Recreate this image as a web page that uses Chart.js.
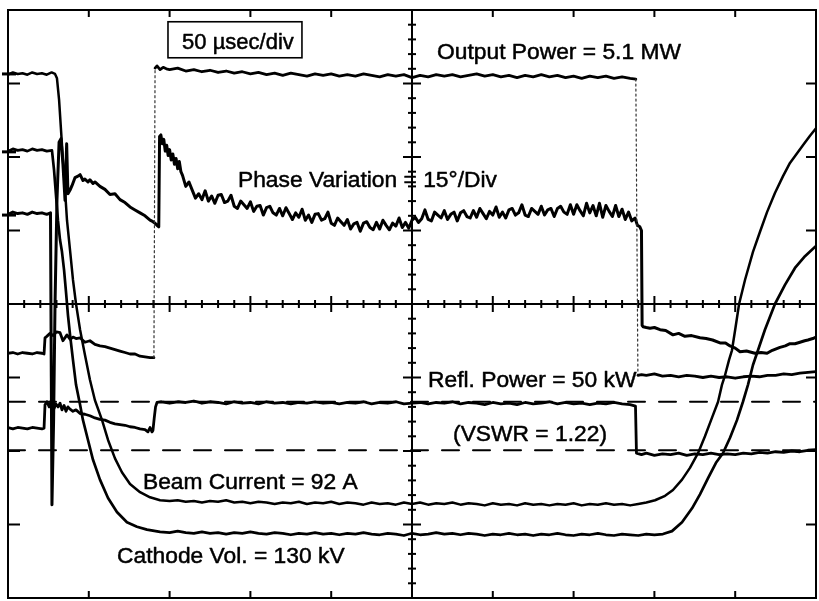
<!DOCTYPE html>
<html><head><meta charset="utf-8">
<script src="https://cdn.jsdelivr.net/npm/chart.js@4.4.0/dist/chart.umd.min.js"></script>
<style>html,body{margin:0;padding:0;background:#fff}canvas{display:block}</style>
</head><body>
<canvas id="c" width="819" height="601"></canvas>
<script>
// x: time in µs (50 µs/div, 10 div); y: screen divisions (8 div, centre = 0)
const timeRange = [0, 500];
const divRange = [-4, 4];
const majorTimeTicks = [50,100,150,200,250,300,350,400,450];
const majorDivTicks = [-3,-2,-1,1,2,3];

const outputPower = [[0,-0.67],[3,-0.66],[6,-0.68],[9,-0.66],[12,-0.67],[15,-0.68],[18,-0.66],[21,-0.67],[22.3,-0.68],[22.9,-0.46],[24,-0.44],[26,-0.40],[28,-0.43],[30,-0.38],[32.2,-0.39],[34,-0.50],[36.5,-0.42],[38.4,-0.48],[40.2,-0.45],[42.1,-0.47],[44.6,-0.46],[47.6,-0.52],[50.7,-0.50],[53.8,-0.55],[56.9,-0.57],[60,-0.58],[63.1,-0.60],[66.2,-0.62],[69.3,-0.64],[72.4,-0.66],[75.5,-0.68],[78.6,-0.68],[81.7,-0.71],[84.8,-0.72],[87.9,-0.73],[90.3,-0.73],[91.0,3.21],[92.2,3.24],[94.1,3.19],[96,3.22],[98,3.20],[100,3.19],[105,3.21],[110,3.17],[115,3.19],[120,3.16],[125,3.18],[130,3.15],[135,3.17],[140,3.14],[145,3.16],[150,3.13],[155,3.15],[160,3.12],[165,3.14],[170,3.11],[175,3.14],[180,3.12],[185,3.10],[190,3.13],[195,3.11],[200,3.13],[205,3.10],[210,3.12],[215,3.10],[220,3.13],[225,3.11],[230,3.09],[235,3.12],[240,3.10],[245,3.12],[250,3.08],[255,3.11],[260,3.09],[265,3.12],[270,3.10],[275,3.12],[280,3.09],[285,3.11],[290,3.13],[295,3.10],[300,3.12],[305,3.09],[310,3.11],[315,3.08],[320,3.11],[325,3.09],[330,3.12],[335,3.09],[340,3.11],[345,3.08],[350,3.10],[355,3.07],[360,3.10],[365,3.08],[370,3.10],[375,3.07],[380,3.09],[385,3.07],[388.5,3.06],[389.8,-0.97],[392,-0.96],[395,-0.97],[400,-0.95],[405,-0.98],[410,-0.97],[415,-0.99],[420,-0.97],[425,-0.98],[430,-1.00],[435,-0.98],[440,-1.00],[445,-0.99],[450,-1.01],[455,-0.99],[460,-0.98],[465,-0.99],[470,-0.97],[475,-0.97],[480,-0.95],[485,-0.96],[490,-0.94],[495,-0.93],[500,-0.92]];

const phaseVariation = [[0,1.22],[3,1.25],[6,1.23],[9,1.24],[12,1.22],[15,1.25],[18,1.23],[21,1.24],[24,1.22],[26.3,1.24],[26.8,-1.0],[27.2,-2.73],[28.2,-1.6],[29.1,0.0],[30.3,1.41],[31.6,2.2],[32.8,2.25],[34.0,1.9],[35.3,1.41],[36.3,2.18],[37.1,1.50],[38.4,1.55],[39.6,1.61],[41.5,1.72],[43.3,1.74],[44.6,1.76],[46.4,1.68],[47.6,1.70],[49.5,1.66],[50.7,1.69],[52.6,1.64],[53.8,1.66],[56.9,1.60],[60.0,1.56],[63.1,1.49],[66.2,1.50],[69.3,1.42],[72.4,1.38],[75.5,1.32],[78.6,1.28],[81.7,1.24],[84.8,1.20],[87.9,1.14],[89.7,1.12],[91.0,1.10],[92.2,1.07],[93.3,1.05],[93.8,2.28],[94.6,2.30],[95.5,2.18],[96.4,2.24],[97.3,2.08],[98.2,2.16],[99.1,2.02],[100.0,2.10],[101.0,1.96],[102.0,2.04],[103.0,1.90],[104.0,1.98],[105.0,1.84],[106.0,1.94],[107.0,1.80],
[108,1.75],[110,1.60],[112,1.66],[114,1.55],[116,1.44],[118,1.50],[120,1.42],[122,1.54],[124,1.40],[126,1.47],[128,1.37],[130,1.48],[132,1.49],[134,1.38],[136,1.40],[138,1.48],[140,1.33],[142,1.30],[144,1.40],[146,1.35],[148,1.30],[150,1.39],[152,1.26],[154,1.33],[156,1.34],[158,1.21],[160,1.31],[162,1.33],[164,1.24],[166,1.21],[168,1.30],[170,1.20],[172,1.31],[174,1.23],[176,1.15],[178,1.24],[180,1.18],[182,1.29],[184,1.14],[186,1.21],[188,1.11],[190,1.22],[192,1.23],[194,1.14],[196,1.16],[198,1.25],[200,1.10],[202,1.07],[204,1.17],[206,1.12],[208,1.07],[210,1.15],[212,1.02],[214,1.09],[216,1.11],[218,0.99],[220,1.10],[222,1.12],[224,1.04],[226,1.01],[228,1.11],[230,1.02],[232,1.14],[234,1.07],[236,1.01],[238,1.10],[240,1.06],[242,1.17],[244,1.04],[246,1.11],[248,1.03],[250,1.14],[252,1.18],[254,1.11],[256,1.16],[258,1.28],[260,1.15],[262,1.13],[264,1.25],[266,1.21],[268,1.17],[270,1.27],[272,1.15],[274,1.22],[276,1.25],[278,1.13],[280,1.24],[282,1.27],[284,1.19],[286,1.17],[288,1.27],[290,1.18],[292,1.30],[294,1.23],[296,1.16],[298,1.26],[300,1.21],[302,1.32],[304,1.18],[306,1.25],[308,1.17],[310,1.28],[312,1.30],[314,1.21],[316,1.24],[318,1.35],[320,1.21],[322,1.19],[324,1.30],[326,1.26],[328,1.22],[330,1.33],[332,1.21],[334,1.28],[336,1.30],[338,1.19],[340,1.30],[342,1.33],[344,1.25],[346,1.22],[348,1.35],[350,1.22],[352,1.35],[354,1.27],[356,1.20],[358,1.37],[360,1.24],[362,1.34],[364,1.20],[366,1.37],[368,1.18],[370,1.34],[372,1.26],[374,1.19],[376,1.34],[378,1.19],[380,1.29],[382,1.15],[384,1.25],[386,1.13],[388,1.17],[389.5,1.07],[391,1.05],[392.0,1.00],
[392.4,-0.29],[393,-0.31],[395,-0.32],[397.3,-0.33],[400,-0.32],[403.5,-0.35],[407,-0.36],[411.5,-0.42],[415,-0.40],[418.9,-0.44],[423,-0.43],[428.2,-0.46],[432,-0.47],[436,-0.49],[440.6,-0.53],[444,-0.53],[446.8,-0.57],[450,-0.60],[453,-0.65],[457,-0.64],[462.2,-0.67],[466,-0.66],[469.7,-0.67],[473,-0.63],[477.7,-0.59],[481,-0.57],[483.9,-0.54],[487,-0.54],[490.1,-0.52],[493,-0.50],[495,-0.49],[498,-0.47],[500,-0.45]];

const reflPower = [[0,-1.68],[3,-1.70],[6,-1.68],[9,-1.69],[12,-1.70],[15,-1.68],[18,-1.69],[21,-1.70],[22.3,-1.69],[22.9,-1.37],[24.1,-1.33],[25.5,-1.40],[27.0,-1.30],[28.5,-1.42],[29.7,-1.36],[31.0,-1.40],[32.2,-1.35],[33.4,-1.44],[34.7,-1.38],[35.9,-1.46],[37.1,-1.40],[38.4,-1.43],[40.2,-1.46],[42.1,-1.44],[44.6,-1.49],[47.6,-1.50],[50.7,-1.52],[53.8,-1.55],[56.9,-1.57],[60.0,-1.58],[63.1,-1.61],[66.2,-1.63],[69.3,-1.64],[72.4,-1.65],[75.5,-1.67],[78.6,-1.68],[81.7,-1.70],[84.8,-1.71],[86.6,-1.74],[87.9,-1.68],[89.1,-1.74],[89.7,-1.72],[90.5,-1.55],[91.3,-1.40],[92.2,-1.34],[95,-1.33],[100,-1.35],[105,-1.33],[110,-1.34],[115,-1.32],[120,-1.35],[125,-1.33],[130,-1.34],[135,-1.36],[140,-1.33],[145,-1.35],[150,-1.34],[155,-1.36],[160,-1.33],[165,-1.35],[170,-1.34],[175,-1.36],[180,-1.34],[185,-1.35],[190,-1.33],[195,-1.35],[200,-1.34],[205,-1.36],[210,-1.34],[215,-1.35],[220,-1.33],[225,-1.36],[230,-1.34],[235,-1.35],[240,-1.33],[245,-1.36],[250,-1.35],[255,-1.34],[260,-1.36],[265,-1.34],[270,-1.35],[275,-1.33],[280,-1.36],[285,-1.34],[290,-1.35],[295,-1.37],[300,-1.34],[305,-1.36],[310,-1.35],[315,-1.37],[320,-1.34],[325,-1.36],[330,-1.35],[335,-1.33],[340,-1.36],[345,-1.34],[350,-1.36],[355,-1.35],[360,-1.37],[365,-1.35],[370,-1.36],[375,-1.34],[380,-1.36],[385,-1.37],[388.3,-1.39],[388.9,-2.03],[392,-2.05],[395,-2.03],[400,-2.06],[405,-2.04],[410,-2.05],[415,-2.03],[420,-2.06],[425,-2.04],[430,-2.05],[435,-2.03],[440,-2.05],[445,-2.04],[450,-2.05],[455,-2.03],[460,-2.04],[465,-2.02],[470,-2.03],[475,-2.01],[480,-2.02],[485,-2.00],[490,-2.01],[495,-1.99],[500,-1.98]];

const beamCurrent = [[0,3.12],[3,3.15],[6,3.13],[9,3.14],[12,3.12],[15,3.15],[18,3.13],[21,3.14],[24,3.12],[27,3.15],[29.1,3.13],[30.3,3.07],[31.6,2.78],[32.8,2.37],[34.0,1.96],[35.3,1.55],[36.5,1.14],[38.4,0.73],[40.2,0.33],[42.1,0.0],[44.6,-0.35],[47.6,-0.69],[50.7,-1.03],[53.8,-1.31],[58.2,-1.58],[61.9,-1.85],[66.2,-2.10],[70.5,-2.29],[75.5,-2.45],[81.7,-2.56],[87.9,-2.63],[94.1,-2.67],[100,-2.68],[105,-2.67],[110,-2.69],[115,-2.68],[120,-2.70],[125,-2.68],[130,-2.69],[135,-2.67],[140,-2.70],[145,-2.69],[150,-2.71],[155,-2.69],[160,-2.70],[165,-2.72],[170,-2.70],[175,-2.71],[180,-2.69],[185,-2.72],[190,-2.70],[195,-2.71],[200,-2.69],[205,-2.72],[210,-2.70],[215,-2.71],[220,-2.73],[225,-2.70],[230,-2.72],[235,-2.71],[240,-2.73],[245,-2.70],[250,-2.72],[255,-2.70],[260,-2.73],[265,-2.71],[270,-2.72],[275,-2.70],[280,-2.73],[285,-2.71],[290,-2.72],[295,-2.74],[300,-2.71],[305,-2.73],[310,-2.72],[315,-2.74],[320,-2.71],[325,-2.73],[330,-2.72],[335,-2.74],[340,-2.72],[345,-2.73],[350,-2.71],[355,-2.74],[360,-2.72],[365,-2.73],[370,-2.71],[375,-2.73],[380,-2.72],[385,-2.74],[390,-2.72],[395,-2.70],[400.4,-2.67],[406.6,-2.61],[411.5,-2.53],[417.1,-2.39],[422,-2.23],[427,-2.03],[431.3,-1.80],[435.6,-1.55],[439.4,-1.33],[441.8,-1.10],[443.7,-0.97],[446.2,-0.76],[448,-0.63],[450.2,-0.32],[452.4,0.0],[456.1,0.33],[461,0.71],[465.3,0.98],[469.7,1.25],[474.6,1.51],[479.6,1.74],[483.9,1.92],[488.3,2.05],[492.6,2.18],[496.3,2.29],[500,2.39]];

const cathodeVoltage = [[0,2.08],[3,2.11],[6,2.09],[9,2.10],[12,2.08],[15,2.11],[18,2.09],[21,2.10],[24,2.08],[27.2,2.09],[28.5,1.82],[29.7,1.48],[30.9,1.14],[32.2,0.87],[33.4,0.71],[34.7,0.46],[35.9,0.16],[37.1,-0.15],[38.4,-0.42],[40.2,-0.76],[42.1,-1.10],[44.6,-1.37],[46.4,-1.58],[49.5,-1.85],[52.6,-2.12],[56.9,-2.39],[61.9,-2.64],[67.4,-2.83],[73.6,-2.97],[79.8,-3.03],[86,-3.07],[94.1,-3.10],[100,-3.11],[105,-3.09],[110,-3.11],[115,-3.12],[120,-3.10],[125,-3.12],[130,-3.11],[135,-3.13],[140,-3.11],[145,-3.12],[150,-3.10],[155,-3.12],[160,-3.13],[165,-3.11],[170,-3.12],[175,-3.14],[180,-3.12],[185,-3.13],[190,-3.11],[195,-3.13],[200,-3.12],[205,-3.14],[210,-3.12],[215,-3.13],[220,-3.11],[225,-3.13],[230,-3.14],[235,-3.12],[240,-3.13],[245,-3.15],[250,-3.12],[255,-3.14],[260,-3.13],[265,-3.11],[270,-3.13],[275,-3.12],[280,-3.14],[285,-3.12],[290,-3.13],[295,-3.15],[300,-3.13],[305,-3.14],[310,-3.12],[315,-3.14],[320,-3.13],[325,-3.15],[330,-3.13],[335,-3.14],[340,-3.12],[345,-3.14],[350,-3.15],[355,-3.13],[360,-3.14],[365,-3.12],[370,-3.14],[375,-3.15],[380,-3.13],[385,-3.14],[390,-3.15],[395,-3.13],[400,-3.14],[405.3,-3.13],[410.9,-3.09],[417.1,-2.97],[423.3,-2.78],[428.2,-2.59],[433.2,-2.37],[438.1,-2.16],[442.4,-2.03],[446.8,-1.82],[451.1,-1.58],[454.8,-1.33],[457.9,-1.10],[461,-0.83],[464.1,-0.63],[468.4,-0.35],[474.6,0.0],[480.8,0.26],[487,0.49],[493.2,0.65],[500,0.79]];

const referenceLevels = [-1.33, -1.99];
const channelMarkers = [3.13, 2.07, 1.21];

const labelTexts = ['50 µsec/div','Output Power = 5.1 MW','Phase Variation = 15°/Div','Refl. Power = 50 kW','(VSWR = 1.22)','Beam Current = 92 A','Cathode Vol. = 130 kV'];
const labelAnchors = [[107.7,3.47],[265.5,3.33],[142.3,1.59],[259.9,-1.13],[275.4,-1.86],[83.5,-2.52],[67.5,-3.52]];
const scaleBox = [99.0,3.84,181.9,3.35];

const toXY = arr => arr.map(p => ({x:p[0], y:p[1]}));
const fast = ctx => Math.abs(ctx.p1.parsed.x - ctx.p0.parsed.x) < 1.6 && Math.abs(ctx.p1.parsed.y - ctx.p0.parsed.y) > 1.5;

const trace = (data, w, extra) => Object.assign({data: toXY(data), borderColor:'#000', borderWidth:w, pointRadius:0, tension:0, fill:false, borderJoinStyle:'round', borderCapStyle:'round'}, extra||{});

const datasets = [
  trace(outputPower, 2.8, {segment:{borderDash: c => fast(c)?[2,3]:undefined, borderWidth: c => fast(c)?1.2:undefined, borderColor: c => fast(c)?'#333':undefined}}),
  trace(phaseVariation, 3.0),
  trace(reflPower, 2.8),
  trace(beamCurrent, 2.5),
  trace(cathodeVoltage, 2.7),
];
referenceLevels.forEach(v => datasets.push({data:[{x:timeRange[0],y:v},{x:timeRange[1],y:v}], borderColor:'#000', borderWidth:2, borderDash:[17,14], pointRadius:0}));

const scopePlugin = {
  id:'scope',
  beforeDraw(chart){
    const c = chart.ctx; c.save(); c.fillStyle='#fff'; c.fillRect(0,0,chart.width,chart.height); c.restore();
  },
  beforeDatasetsDraw(chart){
    const c = chart.ctx, xs = chart.scales.x, ys = chart.scales.y, a = chart.chartArea;
    c.save(); c.strokeStyle='#000'; c.lineCap='butt';
    c.lineWidth=2; c.strokeRect(a.left, a.top, a.right-a.left, a.bottom-a.top);
    majorTimeTicks.forEach(t => { const x = xs.getPixelForValue(t);
      c.beginPath(); c.moveTo(x,a.top); c.lineTo(x,a.top+7); c.moveTo(x,a.bottom); c.lineTo(x,a.bottom-7); c.stroke(); });
    majorDivTicks.forEach(v => { const y = ys.getPixelForValue(v);
      c.beginPath(); c.moveTo(a.left,y); c.lineTo(a.left+12,y); c.moveTo(a.right,y); c.lineTo(a.right-10,y); c.stroke(); });
    const x0 = xs.getPixelForValue(250), y0 = ys.getPixelForValue(0);
    c.beginPath(); c.moveTo(a.left,y0); c.lineTo(a.right,y0); c.moveTo(x0,a.top); c.lineTo(x0,a.bottom); c.stroke();
    for (let i=1;i<50;i++){ const t=i*10, x=xs.getPixelForValue(t), L=(i%5===0)?8:4;
      c.beginPath(); c.moveTo(x,y0-L); c.lineTo(x,y0+L); c.stroke(); }
    for (let i=1;i<40;i++){ const v=-4+i*0.2, y=ys.getPixelForValue(v), L=(i%5===0)?9:4;
      c.beginPath(); c.moveTo(x0-L,y); c.lineTo(x0+L,y); c.stroke(); }
    c.lineWidth=3;
    channelMarkers.forEach(v => { const y = ys.getPixelForValue(v);
      c.beginPath(); c.moveTo(a.left-6,y); c.lineTo(a.left+8,y); c.stroke(); });
    c.restore();
  },
  afterDatasetsDraw(chart){
    const c = chart.ctx, xs = chart.scales.x, ys = chart.scales.y;
    c.save();
    const bx1 = xs.getPixelForValue(scaleBox[0]), by1 = ys.getPixelForValue(scaleBox[1]);
    const bx2 = xs.getPixelForValue(scaleBox[2]), by2 = ys.getPixelForValue(scaleBox[3]);
    c.fillStyle='#fff'; c.fillRect(bx1,by1,bx2-bx1,by2-by1);
    c.strokeStyle='#000'; c.lineWidth=1.6; c.strokeRect(bx1,by1,bx2-bx1,by2-by1);
    c.fillStyle='#000'; c.lineWidth=0.5; c.lineJoin='round';
    c.textAlign='left'; c.textBaseline='alphabetic';
    labelTexts.forEach((txt,i) => {
      c.font = (i===0 ? '22px' : '22.8px') + ' "Liberation Sans", Arial, Helvetica, sans-serif';
      const x = xs.getPixelForValue(labelAnchors[i][0]), y = ys.getPixelForValue(labelAnchors[i][1]);
      c.fillText(txt, x, y); c.strokeText(txt, x, y);
    });
    c.restore();
  }
};

new Chart(document.getElementById('c'), {
  type:'line',
  data:{datasets},
  options:{
    responsive:false, animation:false, events:[],
    layout:{padding:{left:8, top:10, right:3, bottom:3}},
    scales:{
      x:{type:'linear', min:timeRange[0], max:timeRange[1], display:false},
      y:{type:'linear', min:divRange[0], max:divRange[1], display:false}
    },
    plugins:{legend:{display:false}, tooltip:{enabled:false}},
    elements:{line:{borderCapStyle:'round'}}
  },
  plugins:[scopePlugin]
});
</script>
</body></html>
